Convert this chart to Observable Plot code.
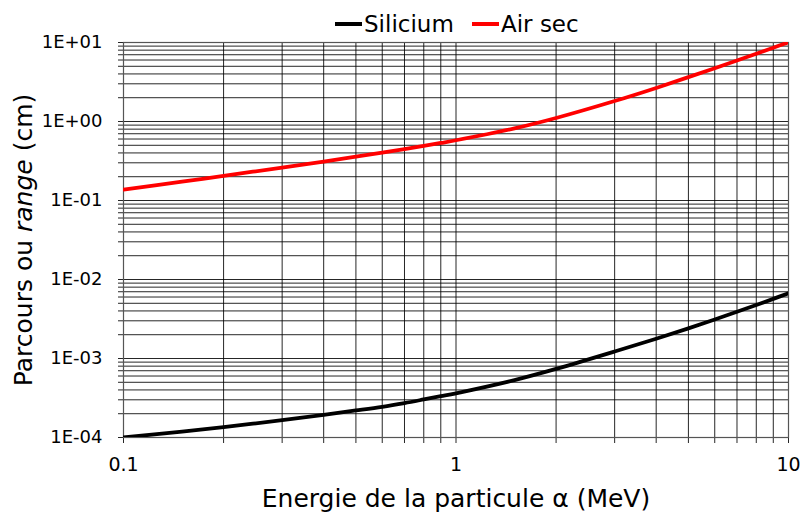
<!DOCTYPE html>
<html>
<head>
<meta charset="utf-8">
<script src="https://cdn.jsdelivr.net/npm/d3@7"></script>
<script src="https://cdn.jsdelivr.net/npm/@observablehq/plot@0.6"></script>
<style>
  html, body { margin: 0; padding: 0; background: white; }
  #chart { position: relative; width: 801px; height: 513px; }
</style>
</head>
<body>
<div id="chart"></div>
<script>
// Data
const energie = [0.1, 0.15, 0.2, 0.3, 0.4, 0.5, 0.6, 0.7, 0.8, 0.9, 1, 1.5, 2, 3, 4, 5, 6, 7, 8, 9, 10];
const silicium = [1.0e-4, 1.19e-4, 1.35e-4, 1.66e-4, 1.94e-4, 2.20e-4, 2.45e-4, 2.73e-4, 3.03e-4, 3.33e-4, 3.63e-4, 5.33e-4, 7.38e-4, 1.225e-3, 1.78e-3, 2.41e-3, 3.12e-3, 3.90e-3, 4.76e-3, 5.69e-3, 6.70e-3];
const airSec = [0.137, 0.173, 0.205, 0.261, 0.311, 0.358, 0.403, 0.447, 0.491, 0.535, 0.579, 0.818, 1.107, 1.815, 2.66, 3.64, 4.73, 5.93, 7.21, 8.59, 10.05];
const seriesNames = ["Silicium", "Air sec"];
const seriesColors = ["#000000", "#ff0000"];
const xTickLabels = [0.1, 1, 10];
const yTickLabels = [1e-4, 1e-3, 1e-2, 1e-1, 1, 10];
const xTitle = "Energie de la particule α (MeV)";
const yTitle = ["Parcours ou ", "range", " (cm)"];

const rows = [];
energie.forEach((e, i) => {
  rows.push({energie: e, parcours: silicium[i], serie: seriesNames[0]});
  rows.push({energie: e, parcours: airSec[i], serie: seriesNames[1]});
});

// log grid positions (1..9 within each decade)
const xGrid = [];
for (let p = -1; p < 1; p++) for (let m = 1; m < 10; m++) xGrid.push(+(m * 10 ** p).toPrecision(3));
xGrid.push(10);
const yGrid = [];
for (let p = -4; p < 1; p++) for (let m = 1; m < 10; m++) yGrid.push(+(m * 10 ** p).toPrecision(3));
yGrid.push(10);

const fmtY = d => {
  const e = Math.round(Math.log10(d));
  return "1E" + (e < 0 ? "-" : "+") + String(Math.abs(e)).padStart(2, "0");
};
const isLabel = (arr, d) => arr.some(v => Math.abs(v - d) / v < 1e-6);

const chart = Plot.plot({
  width: 801,
  height: 513,
  marginLeft: 123,
  marginRight: 13,
  marginTop: 42,
  marginBottom: 76,
  style: {fontFamily: "DejaVu Sans", fontSize: "17px", color: "black", background: "white"},
  x: {type: "log", domain: [0.1, 10]},
  y: {type: "log", domain: [1e-4, 10]},
  color: {domain: seriesNames, range: seriesColors},
  marks: [
    Plot.gridX(xGrid, {stroke: "black", strokeOpacity: 0.85, strokeWidth: 1}),
    Plot.gridY(yGrid, {stroke: "black", strokeOpacity: 0.85, strokeWidth: 1}),
    Plot.axisX(xGrid, {
      tickSize: 6, tickPadding: 14, label: null, fontSize: 19,
      stroke: "black", strokeOpacity: 0.85,
      tickFormat: d => isLabel(xTickLabels, d) ? String(d) : ""
    }),
    Plot.axisY(yGrid, {
      tickSize: 5, tickPadding: 16, label: null, fontSize: 18,
      stroke: "black", strokeOpacity: 0.85,
      tickFormat: d => isLabel(yTickLabels, d) ? fmtY(d) : ""
    }),
    Plot.frame({stroke: "#555", strokeWidth: 1.2}),
    Plot.line(rows, {
      x: "energie", y: "parcours", z: "serie", stroke: "serie",
      strokeWidth: 3.8, curve: "catmull-rom", clip: true
    })
  ]
});

document.getElementById("chart").appendChild(chart);

// Axis titles (with italic "range") and the legend, as real SVG text
const svg = d3.select(chart);
svg.append("text")
  .attr("x", 456).attr("y", 507)
  .attr("text-anchor", "middle")
  .attr("font-family", "DejaVu Sans")
  .attr("font-size", 25)
  .attr("fill", "black")
  .text(xTitle);

const ylab = svg.append("text")
  .attr("transform", "translate(32,240) rotate(-90)")
  .attr("text-anchor", "middle")
  .attr("font-family", "DejaVu Sans")
  .attr("font-size", 25)
  .attr("fill", "black");
ylab.append("tspan").text(yTitle[0]);
ylab.append("tspan").attr("font-style", "italic").text(yTitle[1]);
ylab.append("tspan").text(yTitle[2]);

const legendX = [335, 472];
const leg = svg.append("g")
  .attr("font-family", "DejaVu Sans")
  .attr("font-size", 23)
  .attr("text-anchor", "start");
seriesNames.forEach((name, i) => {
  const x0 = legendX[i];
  leg.append("line").attr("x1", x0).attr("x2", x0 + 27).attr("y1", 24).attr("y2", 24)
    .attr("stroke", seriesColors[i]).attr("stroke-width", 4);
  leg.append("text").attr("x", x0 + 29).attr("y", 32)
    .attr("text-anchor", "start")
    .attr("fill", "black").text(name);
});
</script>
</body>
</html>
